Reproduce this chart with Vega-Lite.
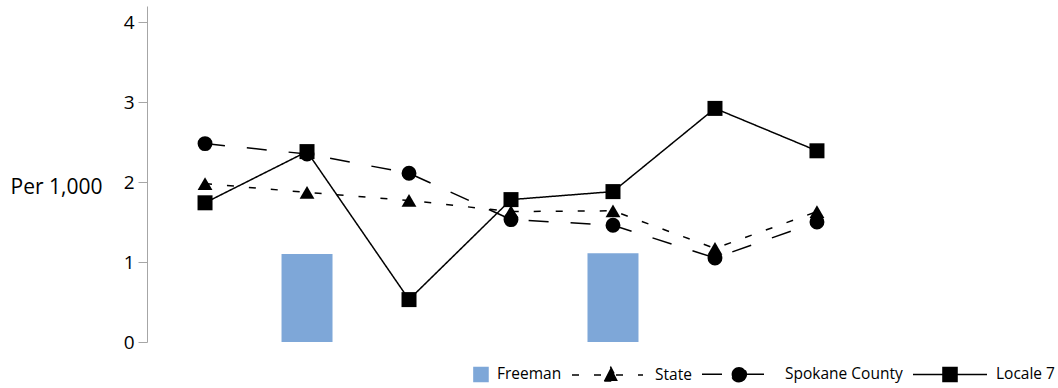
{
  "$schema": "https://vega.github.io/schema/vega-lite/v6.json",
  "width": 728,
  "height": 336,
  "autosize": {"type": "none"},
  "padding": {"left": 147, "top": 6, "right": 183, "bottom": 46},
  "background": "white",
  "config": {"view": {"stroke": null}},
  "data": {
    "values": [
      {"cat": 2, "series": "Freeman", "value": 1.1},
      {"cat": 5, "series": "Freeman", "value": 1.11},
      {"cat": 1, "series": "State", "value": 1.98},
      {"cat": 2, "series": "State", "value": 1.87},
      {"cat": 3, "series": "State", "value": 1.77},
      {"cat": 4, "series": "State", "value": 1.63},
      {"cat": 5, "series": "State", "value": 1.64},
      {"cat": 6, "series": "State", "value": 1.17},
      {"cat": 7, "series": "State", "value": 1.63},
      {"cat": 1, "series": "Spokane County", "value": 2.48},
      {"cat": 2, "series": "Spokane County", "value": 2.35},
      {"cat": 3, "series": "Spokane County", "value": 2.11},
      {"cat": 4, "series": "Spokane County", "value": 1.53},
      {"cat": 5, "series": "Spokane County", "value": 1.46},
      {"cat": 6, "series": "Spokane County", "value": 1.05},
      {"cat": 7, "series": "Spokane County", "value": 1.5},
      {"cat": 1, "series": "Locale 7", "value": 1.74},
      {"cat": 2, "series": "Locale 7", "value": 2.38},
      {"cat": 3, "series": "Locale 7", "value": 0.53},
      {"cat": 4, "series": "Locale 7", "value": 1.78},
      {"cat": 5, "series": "Locale 7", "value": 1.88},
      {"cat": 6, "series": "Locale 7", "value": 2.92},
      {"cat": 7, "series": "Locale 7", "value": 2.39}
    ]
  },
  "encoding": {
    "x": {
      "field": "cat",
      "type": "ordinal",
      "axis": null,
      "scale": {"type": "band", "domain": [1, 2, 3, 4, 5, 6, 7], "paddingInner": 0.5, "paddingOuter": 0.319}
    },
    "y": {
      "field": "value",
      "type": "quantitative",
      "scale": {"domain": [0, 4.2], "nice": false, "zero": true},
      "axis": {
        "values": [0, 1, 2, 3, 4],
        "grid": false,
        "domainColor": "#a6a6a6",
        "domainWidth": 1,
        "tickColor": "#a6a6a6",
        "tickSize": 9,
        "labelFont": "Open Sans",
        "labelFontSize": 19,
        "labelColor": "#000000",
        "labelPadding": 4,
        "title": "Per 1,000",
        "titleAngle": 0,
        "titleAlign": "right",
        "titleBaseline": "middle",
        "titleX": -45,
        "titleY": 181,
        "titleFont": "Open Sans",
        "titleFontSize": 21,
        "titleFontWeight": "normal",
        "titleColor": "#000000"
      }
    }
  },
  "layer": [
    {
      "transform": [{"filter": "datum.series === 'Freeman'"}],
      "mark": {"type": "bar", "color": "#7EA7D8"}
    },
    {
      "transform": [{"filter": "datum.series !== 'Freeman'"}],
      "mark": {"type": "line", "color": "#000000", "strokeWidth": 1.5},
      "encoding": {
        "strokeDash": {
          "field": "series",
          "type": "nominal",
          "scale": {"domain": ["State", "Spokane County", "Locale 7"], "range": [[7, 15], [20, 22], [1, 0]]},
          "legend": null
        }
      }
    },
    {
      "transform": [{"filter": "datum.series !== 'Freeman'"}],
      "mark": {"type": "point", "filled": true, "color": "#000000", "opacity": 1},
      "encoding": {
        "shape": {
          "field": "series",
          "type": "nominal",
          "scale": {"domain": ["State", "Spokane County", "Locale 7"], "range": ["triangle-up", "circle", "square"]},
          "legend": null
        },
        "size": {
          "field": "series",
          "type": "nominal",
          "scale": {"domain": ["State", "Spokane County", "Locale 7"], "range": [220, 225, 190]},
          "legend": null
        }
      }
    },
    {
      "mark": {"type": "point", "filled": true, "opacity": 0, "size": 5476},
      "encoding": {
        "shape": {
          "field": "series",
          "type": "nominal",
          "scale": {
            "domain": ["Freeman", "State", "Spokane County", "Locale 7"],
            "range": [
              "M0.62,-0.19H1V0.19H0.62Z",
              "M-1,0H0.92M0.05,-0.21L0.24,0.16L-0.14,0.16Z",
              "M-1,0H0.68M0.2,0A0.2,0.2 0 1,1 -0.2,0A0.2,0.2 0 1,1 0.2,0Z",
              "M-1,0H1M-0.19,-0.19H0.19V0.19H-0.19Z"
            ]
          },
          "legend": {
            "title": null,
            "orient": "none",
            "direction": "horizontal",
            "legendX": 266,
            "legendY": 330,
            "padding": 0,
            "symbolSize": 5476,
            "symbolStrokeWidth": 1.5,
            "symbolOpacity": 1,
            "labelOffset": 8,
            "columnPadding": 7,
            "labelFont": "Open Sans",
            "labelFontSize": 15.5,
            "labelColor": "#000000"
          }
        },
        "fill": {
          "field": "series",
          "type": "nominal",
          "scale": {"domain": ["Freeman", "State", "Spokane County", "Locale 7"], "range": ["#7EA7D8", "#000000", "#000000", "#000000"]}
        },
        "stroke": {
          "field": "series",
          "type": "nominal",
          "scale": {"domain": ["Freeman", "State", "Spokane County", "Locale 7"], "range": ["#7EA7D8", "#000000", "#000000", "#000000"]}
        },
        "strokeDash": {
          "field": "series",
          "type": "nominal",
          "scale": {"domain": ["Freeman", "State", "Spokane County", "Locale 7"], "range": [[1, 0], [7, 15], [20, 22], [1, 0]]}
        }
      }
    }
  ],
  "resolve": {
    "scale": {"shape": "independent", "strokeDash": "independent", "fill": "independent", "stroke": "independent", "size": "independent"}
  }
}
